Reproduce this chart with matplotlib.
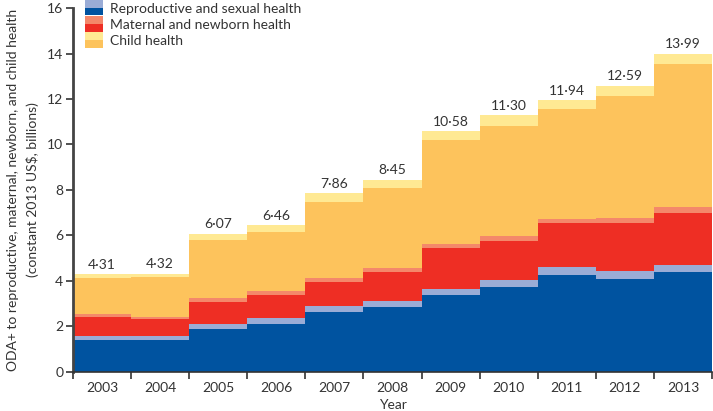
import numpy as np
import matplotlib.pyplot as plt
from matplotlib.patches import Rectangle
from matplotlib.legend_handler import HandlerBase

plt.rcParams['font.family'] = ['Lato', 'DejaVu Sans']

years = ['2003', '2004', '2005', '2006', '2007', '2008', '2009', '2010', '2011', '2012', '2013']

# layer thicknesses, bottom to top (billions, constant 2013 US$)
rsh = [1.41, 1.41, 1.90, 2.12, 2.62, 2.86, 3.38, 3.74, 4.28, 4.10, 4.38]
rsh_light = [0.18, 0.18, 0.20, 0.25, 0.26, 0.28, 0.27, 0.32, 0.34, 0.32, 0.31]
mnh = [0.83, 0.74, 0.98, 1.00, 1.06, 1.24, 1.78, 1.71, 1.93, 2.13, 2.32]
mnh_light = [0.14, 0.08, 0.15, 0.21, 0.21, 0.19, 0.19, 0.22, 0.18, 0.24, 0.22]
ch = [1.57, 1.76, 2.57, 2.57, 3.32, 3.51, 4.56, 4.81, 4.83, 5.36, 6.33]
ch_light = [0.18, 0.15, 0.27, 0.31, 0.39, 0.37, 0.40, 0.50, 0.38, 0.44, 0.43]

totals = [4.31, 4.32, 6.07, 6.46, 7.86, 8.45, 10.58, 11.30, 11.94, 12.59, 13.99]

layers = [rsh, rsh_light, mnh, mnh_light, ch, ch_light]
colors = ['#0053a0', '#9aacd6', '#ee2e24', '#f4886a', '#fdc35c', '#ffe993']
text_col = '#333333'
fs = 10


class SplitPatch(HandlerBase):
    # legend swatch: light half on top, dark half below
    def create_artists(self, legend, orig_handle, xdescent, ydescent,
                       width, height, fontsize, trans):
        dark, light = orig_handle
        h = height + 4
        y0 = -ydescent - 2
        r1 = Rectangle((-xdescent, y0), width, h / 2, facecolor=dark,
                       edgecolor='none', transform=trans)
        r2 = Rectangle((-xdescent, y0 + h / 2), width, h / 2, facecolor=light,
                       edgecolor='none', transform=trans)
        return [r1, r2]


fig = plt.figure(figsize=(7.13, 4.11), dpi=100)
ax = fig.add_axes([0.1024, 0.095, 0.8962, 0.8855])

edges = np.arange(len(years) + 1)
bottom = np.zeros(len(years))
for vals, c in zip(layers, colors):
    top = bottom + np.array(vals)
    ax.stairs(top, edges, baseline=bottom, fill=True, color=c, linewidth=0)
    bottom = top

for i, t in enumerate(totals):
    ax.text(i + 0.5, t + 0.15, f'{t:.2f}'.replace('.', '\u00b7'), ha='center', va='bottom',
            fontsize=fs, color=text_col)

ax.set_xlim(0, len(years))
ax.set_ylim(0, 16)
ax.set_xticks(edges)
ax.set_xticklabels([])
ax.set_xticks(edges[:-1] + 0.5, minor=True)
ax.set_xticklabels(years, minor=True)
ax.tick_params(axis='x', which='major', direction='out', length=5, width=1.2, color='#333333')
ax.tick_params(axis='x', which='minor', length=0, pad=7, labelsize=fs, labelcolor=text_col)
ax.set_yticks(range(0, 17, 2))
ax.tick_params(axis='y', direction='out', length=5, width=1.2, color='#333333',
               labelsize=fs, labelcolor=text_col, pad=2)

for s in ['top', 'right']:
    ax.spines[s].set_visible(False)
ax.spines['left'].set_linewidth(2)
ax.spines['left'].set_color('#444444')
ax.spines['bottom'].set_linewidth(1.2)
ax.spines['bottom'].set_color('#333333')

ax.set_xlabel('Year', fontsize=fs, color=text_col, labelpad=4)
ax.set_ylabel('ODA+ to reproductive, maternal, newborn, and child health\n(constant 2013 US$, billions)',
              fontsize=fs, color=text_col, labelpad=6, linespacing=1.6)

handles = [(colors[0], colors[1]), (colors[2], colors[3]), (colors[4], colors[5])]
labels = ['Reproductive and sexual health', 'Maternal and newborn health', 'Child health']
ax.legend(handles, labels, handler_map={tuple: SplitPatch()}, loc='upper left',
          bbox_to_anchor=(0.01, 1.03), frameon=False, fontsize=fs,
          handlelength=1.3, handletextpad=0.5, labelspacing=0.3, borderaxespad=0,
          labelcolor=text_col)

fig.savefig('out.png', dpi=100)
